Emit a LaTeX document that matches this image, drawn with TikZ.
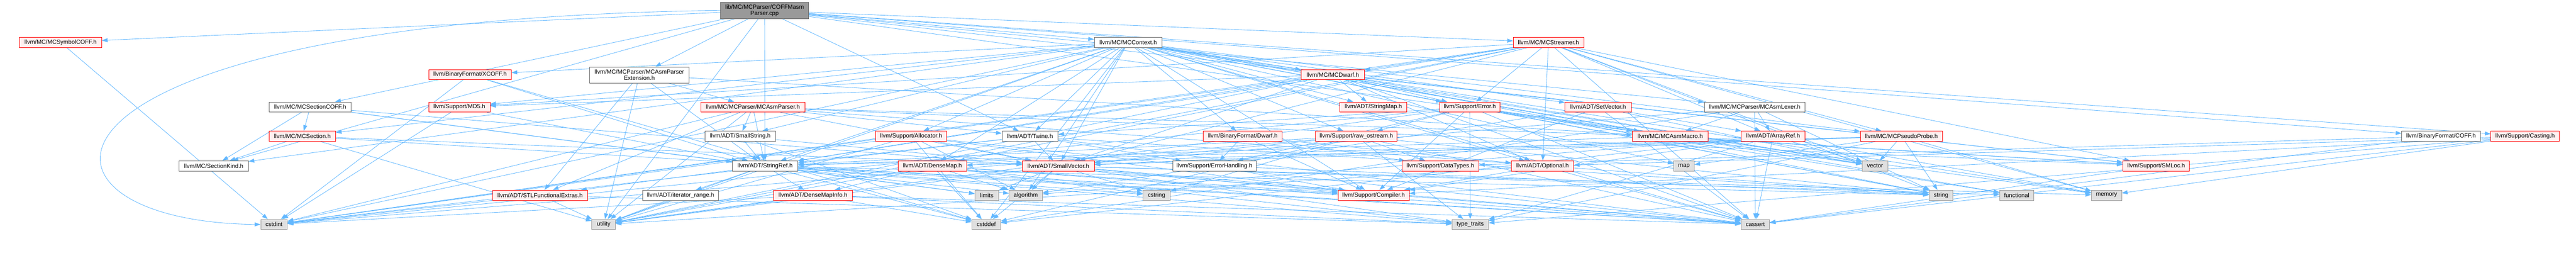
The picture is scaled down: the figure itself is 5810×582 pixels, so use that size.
\documentclass[tikz,border=0pt]{standalone}
\usepackage{fontspec}
\setmainfont{Liberation Sans}
\usetikzlibrary{arrows.meta,backgrounds}
\definecolor{edgeblue}{HTML}{63B8FF}
\definecolor{redline}{HTML}{FF0000}
\definecolor{redfill}{HTML}{FFF0F0}
\definecolor{sysfill}{HTML}{E0E0E0}
\definecolor{sysline}{HTML}{999999}
\definecolor{docline}{HTML}{666666}
\definecolor{rootfill}{HTML}{999999}
\tikzset{%
    hdr/.style={draw=docline,fill=white,line width=1pt,inner sep=0pt,minimum height=23pt,font=\fontsize{13.3}{14}\selectfont},
    trunc/.style={hdr,draw=redline,fill=redfill},
    sys/.style={hdr,draw=sysline,fill=sysfill},
    src/.style={hdr,fill=rootfill,align=center,minimum height=37pt},
    dep/.style={draw=edgeblue,line width=1pt,-{Triangle[length=13pt,width=9pt]}}
}

\begin{document}
\begin{tikzpicture}[x=1pt,y=-1pt]
            \useasboundingbox (0,0) rectangle (5810,582);
            \node[src,minimum width=199pt] (root) at (1724.5,23.5) {lib/MC/MCParser/COFFMasm\\Parser.cpp};

            \node[trunc,minimum width=185pt] (symcoff) at (136.5,95.5) {llvm/MC/MCSymbolCOFF.h};
            \node[hdr,minimum width=153pt] (ctx) at (2544.5,95.5) {llvm/MC/MCContext.h};
            \node[trunc,minimum width=159pt] (streamer) at (3492.5,95.5) {llvm/MC/MCStreamer.h};

            \node[trunc,minimum width=186pt] (xcoff) at (1060,168.5) {llvm/BinaryFormat/XCOFF.h};
            \node[hdr,align=center,minimum width=224pt,minimum height=36pt] (asmext) at (1442,169) {llvm/MC/MCParser/MCAsmParser\\Extension.h};
            \node[trunc,minimum width=142pt] (mcdwarf) at (3006,168.5) {llvm/MC/MCDwarf.h};

            \node[hdr,minimum width=185pt] (seccoff) at (699.5,241.5) {llvm/MC/MCSectionCOFF.h};
            \node[trunc,minimum width=138pt] (md5) at (1036,241.5) {llvm/Support/MD5.h};
            \node[trunc,minimum width=234pt] (asmparser) at (1698,241.5) {llvm/MC/MCParser/MCAsmParser.h};
            \node[trunc,minimum width=151pt] (strmap) at (3097.5,241.5) {llvm/ADT/StringMap.h};
            \node[trunc,minimum width=136pt] (error) at (3315,241.5) {llvm/Support/Error.h};
            \node[trunc,minimum width=149pt] (setvec) at (3604.5,241.5) {llvm/ADT/SetVector.h};
            \node[hdr,minimum width=227pt] (lexer) at (3957.5,241.5) {llvm/MC/MCParser/MCAsmLexer.h};

            \node[trunc,minimum width=150pt] (section) at (682,307.5) {llvm/MC/MCSection.h};
            \node[hdr,minimum width=159pt] (smallstr) at (1669.5,307.5) {llvm/ADT/SmallString.h};
            \node[trunc,minimum width=160pt] (alloc) at (2055,307.5) {llvm/Support/Allocator.h};
            \node[hdr,minimum width=126pt] (twine) at (2323,307.5) {llvm/ADT/Twine.h};
            \node[trunc,minimum width=178pt] (dwarf) at (2803,307.5) {llvm/BinaryFormat/Dwarf.h};
            \node[trunc,minimum width=184pt] (rawos) at (3059,307.5) {llvm/Support/raw\_ostream.h};
            \node[trunc,minimum width=170pt] (macro) at (3767,307.5) {llvm/MC/MCAsmMacro.h};
            \node[trunc,minimum width=144pt] (arrayref) at (3999,307.5) {llvm/ADT/ArrayRef.h};
            \node[trunc,minimum width=185pt] (probe) at (4288.5,307.5) {llvm/MC/MCPseudoProbe.h};
            \node[hdr,minimum width=177pt] (coff) at (5505.5,307.5) {llvm/BinaryFormat/COFF.h};
            \node[trunc,minimum width=154pt] (casting) at (5695,307.5) {llvm/Support/Casting.h};

            \node[hdr,minimum width=156pt] (seckind) at (482,374.5) {llvm/MC/SectionKind.h};
            \node[hdr,minimum width=147pt] (strref) at (1725.5,374.5) {llvm/ADT/StringRef.h};
            \node[trunc,minimum width=154pt] (densemap) at (2103,374.5) {llvm/ADT/DenseMap.h};
            \node[trunc,minimum width=162pt] (smallvec) at (2387,374.5) {llvm/ADT/SmallVector.h};
            \node[hdr,minimum width=188pt] (errh) at (2739,374.5) {llvm/Support/ErrorHandling.h};
            \node[trunc,minimum width=173pt] (datatypes) at (3248.5,374.5) {llvm/Support/DataTypes.h};
            \node[trunc,minimum width=140pt] (optional) at (3479,374.5) {llvm/ADT/Optional.h};
            \node[sys,minimum width=46pt] (map) at (3798,374.5) {map};
            \node[sys,minimum width=58pt] (vector) at (4229,374.5) {vector};
            \node[trunc,minimum width=150pt] (smloc) at (4863,374.5) {llvm/Support/SMLoc.h};

            \node[trunc,minimum width=214pt] (stlfx) at (1218,440.5) {llvm/ADT/STLFunctionalExtras.h};
            \node[hdr,minimum width=170pt] (iterrange) at (1535,440.5) {llvm/ADT/iterator\_range.h};
            \node[trunc,minimum width=177pt] (dmi) at (1833.5,440.5) {llvm/ADT/DenseMapInfo.h};
            \node[sys,minimum width=53pt] (limits) at (2225.5,440.5) {limits};
            \node[sys,minimum width=75pt] (algorithm) at (2313.5,440.5) {algorithm};
            \node[sys,minimum width=61pt] (cstring) at (2608.5,440.5) {cstring};
            \node[trunc,minimum width=160pt] (compiler) at (3098,440.5) {llvm/Support/Compiler.h};
            \node[sys,minimum width=54pt] (string) at (4378,440.5) {string};
            \node[sys,minimum width=77pt] (functional) at (4548.5,440.5) {functional};
            \node[sys,minimum width=68pt] (memory) at (4751,440.5) {memory};

            \node[sys,minimum width=60pt] (cstdint) at (618,506.5) {cstdint};
            \node[sys,minimum width=53pt] (utility) at (1361.5,506.5) {utility};
            \node[sys,minimum width=65pt] (cstddef) at (2224.5,506.5) {cstddef};
            \node[sys,minimum width=82pt] (typetraits) at (3316,506.5) {type\_traits};
            \node[sys,minimum width=64pt] (cassert) at (3959,506.5) {cassert};

            % include edges, one loop per including file
            \begin{scope}[on background layer]
            % the long way round on the left
            \draw[dep] (root.west) .. controls (0,45) and (0,500) .. (cstdint.west);
            \foreach \dst in {strref,twine,coff,macro,ctx,lexer,asmext,seccoff,streamer,symcoff,seckind,casting,smloc,utility}
                \draw[dep] (root) -- (\dst);
            \foreach \dst in {densemap,optional,setvec,smallstr,smallvec,strmap,strref,twine,dwarf,xcoff,macro,mcdwarf,probe,section,seckind,alloc,compiler,error,md5,rawos,algorithm,cassert,cstddef,cstdint,functional,map,memory,string,utility,vector}
                \draw[dep] (ctx) -- (\dst);
            \foreach \dst in {arrayref,densemap,optional,smallvec,strref,mcdwarf,probe,error,md5,smloc,cassert,cstdint,memory,string,utility,vector}
                \draw[dep] (streamer) -- (\dst);
            \foreach \dst in {optional,smallvec,strmap,strref,error,md5,smloc,cassert,cstdint,string,utility,vector}
                \draw[dep] (mcdwarf) -- (\dst);
            \foreach \dst in {stlfx,strref,asmparser,smloc,utility}
                \draw[dep] (asmext) -- (\dst);
            \foreach \dst in {stlfx,smallstr,smallvec,strref,twine,macro,smloc,cstdint,string,utility}
                \draw[dep] (asmparser) -- (\dst);
            \foreach \dst in {arrayref,smallvec,macro,cassert,cstddef,string}
                \draw[dep] (lexer) -- (\dst);
            \foreach \dst in {strref,section,seckind,cassert,limits}
                \draw[dep] (seccoff) -- (\dst);
            \foreach \dst in {smallvec,seckind,cassert,utility}
                \draw[dep] (section) -- (\dst);
            \draw[dep] (symcoff) -- (cstdint);
            \foreach \dst in {strref,cstddef,cstdint}
                \draw[dep] (xcoff) -- (\dst);
            \foreach \dst in {strref,cstdint}
                \draw[dep] (md5) -- (\dst);
            \foreach \dst in {twine,compiler,errh,rawos,cassert,cstdint,functional,memory,string,typetraits,utility,vector}
                \draw[dep] (error) -- (\dst);
            \foreach \dst in {arrayref,compiler,algorithm,cassert,vector}
                \draw[dep] (setvec) -- (\dst);
            \foreach \dst in {smallvec,strref,datatypes,cassert,cstddef,cstdint,cstring,string,typetraits}
                \draw[dep] (rawos) -- (\dst);
            \foreach \dst in {optional,compiler,datatypes,errh}
                \draw[dep] (dwarf) -- (\dst);
            \foreach \dst in {smallvec,strref,errh,cassert,cstdint,string}
                \draw[dep] (twine) -- (\dst);
            \foreach \dst in {smallvec,compiler,algorithm,cassert,cstddef,cstdint,utility}
                \draw[dep] (alloc) -- (\dst);
            \foreach \dst in {smallvec,strref,cstddef}
                \draw[dep] (smallstr) -- (\dst);
            \foreach \dst in {strref,smloc,vector}
                \draw[dep] (macro) -- (\dst);
            \foreach \dst in {smallvec,compiler,algorithm,cassert,cstddef,memory,typetraits,vector}
                \draw[dep] (arrayref) -- (\dst);
            \foreach \dst in {densemap,smallvec,strref,map,memory,string,typetraits,vector}
                \draw[dep] (probe) -- (\dst);
            \foreach \dst in {datatypes,cassert}
                \draw[dep] (coff) -- (\dst);
            \foreach \dst in {optional,compiler,cassert,memory,typetraits}
                \draw[dep] (casting) -- (\dst);
            \draw[dep] (smloc) -- (cassert);
            \foreach \dst in {dmi,stlfx,iterrange,compiler,algorithm,cassert,cstddef,cstring,limits,string,typetraits,utility}
                \draw[dep] (strref) -- (\dst);
            \foreach \dst in {dmi,compiler,algorithm,cassert,cstddef,cstring,typetraits,utility}
                \draw[dep] (densemap) -- (\dst);
            \foreach \dst in {compiler,algorithm,cassert,cstddef,cstring,functional,limits,memory,typetraits,utility}
                \draw[dep] (smallvec) -- (\dst);
            \foreach \dst in {compiler,string}
                \draw[dep] (errh) -- (\dst);
            \foreach \dst in {compiler,cassert,utility}
                \draw[dep] (optional) -- (\dst);
            \foreach \dst in {cstdint,typetraits,utility}
                \draw[dep] (stlfx) -- (\dst);
            \draw[dep] (iterrange) -- (utility);
            \foreach \dst in {cassert,cstddef,cstdint,typetraits,utility}
                \draw[dep] (dmi) -- (\dst);
            \end{scope}
        \end{tikzpicture}
\end{document}
